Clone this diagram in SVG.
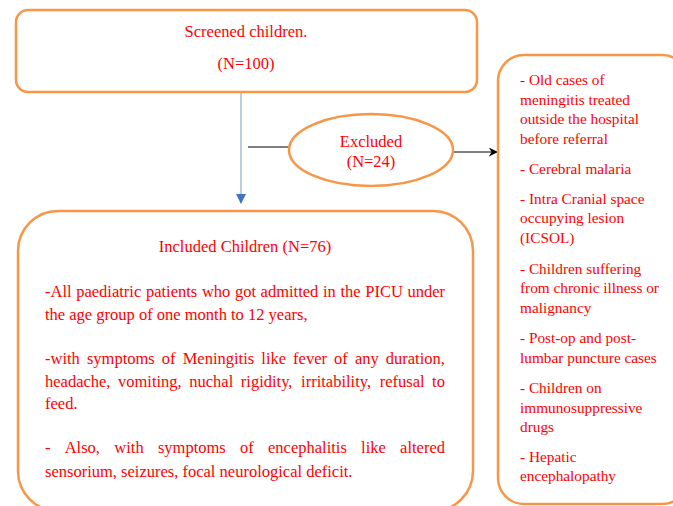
<svg xmlns="http://www.w3.org/2000/svg" width="673" height="506" viewBox="0 0 673 506">
<defs>
<style>
.box{fill:#fff;stroke:#f79646;stroke-width:2.5}
.t{font-family:"Liberation Serif","Times New Roman",serif;fill:#ff0000}
.c{text-anchor:middle;font-size:16.5px}
.b{font-size:16.5px}
.r{font-size:15.3px}
</style>
<marker id="ab" viewBox="0 0 10 10" refX="9" refY="5" markerWidth="10" markerHeight="10" markerUnits="userSpaceOnUse" orient="auto"><path d="M0,0 L10,5 L0,10 z" fill="#4472c4"/></marker>
<marker id="ak" viewBox="0 0 10 10" refX="9" refY="5" markerWidth="9" markerHeight="9" markerUnits="userSpaceOnUse" orient="auto"><path d="M0,0 L10,5 L0,10 L3,5 z" fill="#000"/></marker>
</defs>
<rect width="673" height="506" fill="#fff"/>
<g id="connectors">
<line x1="241" y1="93" x2="241" y2="203" stroke="#8eaadb" stroke-width="1.2" marker-end="url(#ab)"/>
<line x1="248" y1="147" x2="290" y2="147" stroke="#000" stroke-width="1"/>
<line x1="452" y1="152" x2="497" y2="152" stroke="#000" stroke-width="1" marker-end="url(#ak)"/>
</g>
<g id="screened">
<rect class="box" x="16" y="10" width="461" height="82" rx="12"/>
<text class="t c" x="246" y="37">Screened children.</text>
<text class="t c" x="246" y="69">(N=100)</text>
</g>
<g id="excluded">
<ellipse class="box" cx="371" cy="150" rx="82" ry="36"/>
<text class="t c" x="371" y="147">Excluded</text>
<text class="t c" x="371" y="167">(N=24)</text>
</g>
<g id="exclusion-criteria">
<rect class="box" x="498" y="55" width="190" height="449" rx="26"/>
<text class="t r" x="520"><tspan x="520" y="85">- Old cases of</tspan><tspan x="520" y="105">meningitis treated</tspan><tspan x="520" y="124">outside the hospital</tspan><tspan x="520" y="144">before referral</tspan><tspan x="520" y="174">- Cerebral malaria</tspan><tspan x="520" y="204">- Intra Cranial space</tspan><tspan x="520" y="223">occupying lesion</tspan><tspan x="520" y="243">(ICSOL)</tspan><tspan x="520" y="274">- Children suffering</tspan><tspan x="520" y="293">from chronic illness or</tspan><tspan x="520" y="313">malignancy</tspan><tspan x="520" y="343">- Post-op and post-</tspan><tspan x="520" y="363">lumbar puncture cases</tspan><tspan x="520" y="393">- Children on</tspan><tspan x="520" y="413">immunosuppressive</tspan><tspan x="520" y="432">drugs</tspan><tspan x="520" y="462">- Hepatic</tspan><tspan x="520" y="481">encephalopathy</tspan></text>
</g>
<g id="included">
<rect class="box" x="18" y="211" width="455" height="300" rx="40"/>
<text class="t c" x="245" y="252">Included Children (N=76)</text>
<text class="t b" y="297"><tspan x="45">-All</tspan> <tspan x="76.2">paediatric</tspan> <tspan x="145.9">patients</tspan> <tspan x="201.9">who</tspan> <tspan x="234.9">got</tspan> <tspan x="260.6">admitted</tspan> <tspan x="323">in</tspan> <tspan x="340.5">the</tspan> <tspan x="365.3">PICU</tspan> <tspan x="407.5">under</tspan></text>
<text class="t b" x="45" y="320">the age group of one month to 12 years,</text>
<text class="t b" y="364"><tspan x="45">-with</tspan> <tspan x="86.9">symptoms</tspan> <tspan x="161.8">of</tspan> <tspan x="182.7">Meningitis</tspan> <tspan x="261.3">like</tspan> <tspan x="293.1">fever</tspan> <tspan x="334.1">of</tspan> <tspan x="354.9">any</tspan> <tspan x="385.8">duration,</tspan></text>
<text class="t b" y="387"><tspan x="45">headache,</tspan> <tspan x="118">vomiting,</tspan> <tspan x="189.3">nuchal</tspan> <tspan x="240.8">rigidity,</tspan> <tspan x="301.1">irritability,</tspan> <tspan x="379.7">refusal</tspan> <tspan x="432.1">to</tspan></text>
<text class="t b" x="45" y="409">feed.</text>
<text class="t b" y="453"><tspan x="45">-</tspan> <tspan x="64.7">Also,</tspan> <tspan x="114.3">with</tspan> <tspan x="157.9">symptoms</tspan> <tspan x="240">of</tspan> <tspan x="268">encephalitis</tspan> <tspan x="361.1">like</tspan> <tspan x="400.1">altered</tspan></text>
<text class="t b" x="45" y="477">sensorium, seizures, focal neurological deficit.</text>
</g>
</svg>
